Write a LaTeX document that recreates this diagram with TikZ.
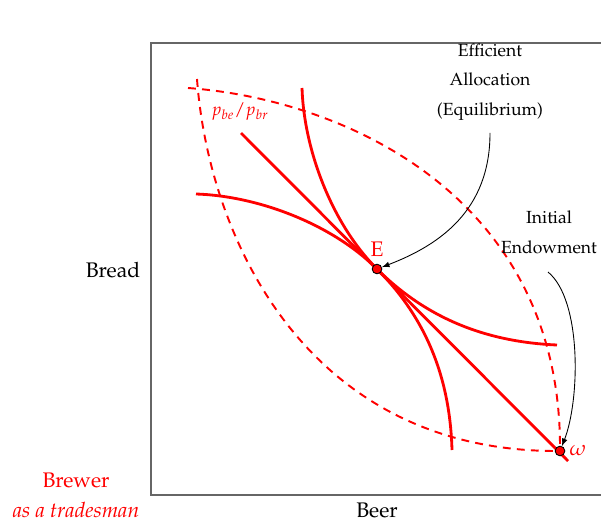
\documentclass[tikz,border=0pt]{standalone}
\usepackage[T1]{fontenc}
\usepackage{mathpazo}
\usetikzlibrary{arrows}

\begin{document}
\begin{tikzpicture}[x=0.02cm, y=-0.02cm,
	curve/.style={red, line width=1.6pt},
	endow/.style={red, line width=1.1pt, dash pattern=on 4.5pt off 3.5pt},
	point/.style={circle, draw=black, fill=red, line width=0.5pt, inner sep=0pt, minimum size=5.5pt},
	note/.style={align=center},
	pointer/.style={-latex, line width=0.5pt}]
	
	\useasboundingbox (0,0) rectangle (601,523);
	\draw[black!60, line width=0.8pt] (601,43) -- (151,43) -- (151,495) -- (601,495);
	
	\node[font=\large] (bread) at (113,270) {Bread};
	\node[font=\large] (beer) at (377,510) {Beer};
	\node[red, font=\large] (brewer) at (76,480) {Brewer};
	\node[red, font=\large\itshape] (trades) at (76,510) {as a tradesman};
	
	% indifference curves through omega
	\draw[endow] (188,88) .. controls (350,100) and (562,200) .. (560,451);
	\draw[endow] (197,79) .. controls (209,241) and (309,453) .. (560,451);
	
	% budget line and the two tangent curves
	\draw[curve] (241,133) -- (568,461);
	\draw[curve] (302,88) .. controls (304,150) and (332,224) .. (377,269)
	.. controls (427,319) and (487,342) .. (557,345);
	\draw[curve] (196,194) .. controls (258,196) and (332,224) .. (377,269)
	.. controls (427,319) and (450,379) .. (452,450);
	
	\node[red] (price) at (240,112) {$p_{be}/p_{br}$};
	
	\node[point] (E) at (377,269) {};
	\node[red, font=\large] (Elabel) at (377,249) {E};
	\node[point] (omega) at (560,451) {};
	\node[red, font=\large] (omegalabel) at (578,451) {$\omega$};
	
	\node[note] (eff) at (490,82) {Efficient\\[5pt]Allocation\\[5pt](Equilibrium)};
	\node[note] (init) at (549,232) {Initial\\[5pt]Endowment};
	
	\coordinate (effend) at (490,133);
	\coordinate (initend) at (548,272);
	\draw[pointer] (effend) .. controls (490,210) and (440,245) .. (E);
	\draw[pointer] (initend) .. controls (582,300) and (580,400) .. (omega);
\end{tikzpicture}
\end{document}
